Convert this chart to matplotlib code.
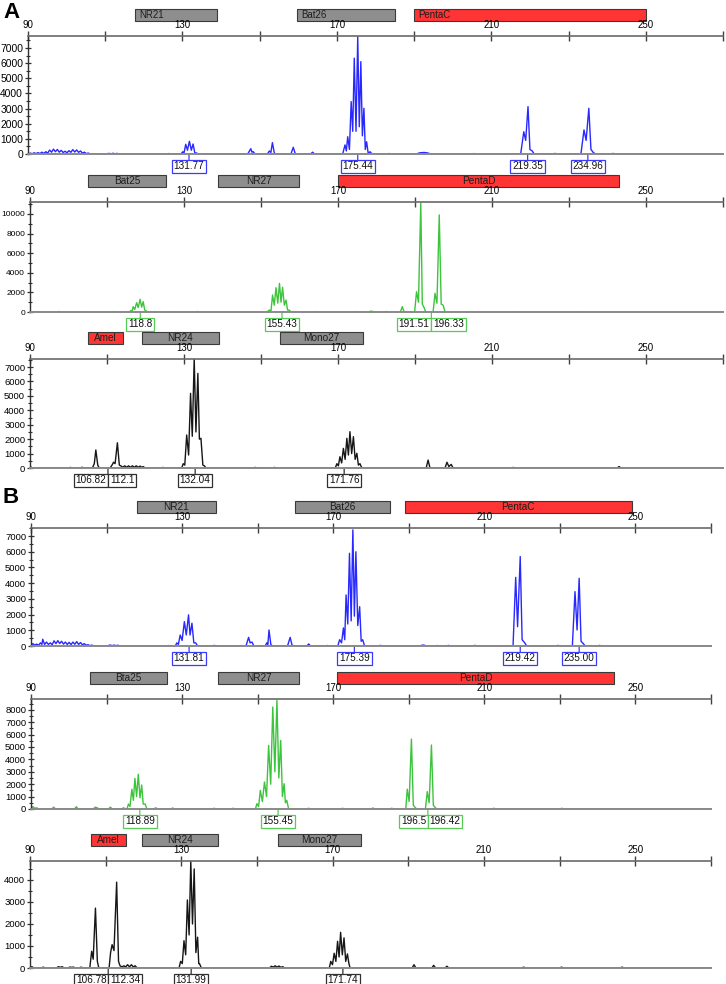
import matplotlib
matplotlib.use('Agg')
import matplotlib.pyplot as plt
from matplotlib.patches import Rectangle
from matplotlib.transforms import blended_transform_factory
from matplotlib.ticker import MultipleLocator
import numpy as np

plt.rcParams['font.family'] = ['Liberation Sans', 'DejaVu Sans']

# ---------------- DATA (size in bp, height in RFU) ----------------
a1_trace = [(90,0),(90.6,60),(91.1,20),(91.6,80),(92.1,30),(92.6,90),(93.1,30),(93.6,120),(94.1,40),(94.6,150),
            (95.1,60),(95.6,260),(96.1,120),(96.6,320),(97.1,150),(97.6,300),(98.1,120),(98.6,240),(99.1,100),
            (99.6,180),(100.1,80),(100.6,220),(101.1,110),(101.6,290),(102.1,130),(102.6,270),(103.1,110),
            (103.6,200),(104.1,60),(104.6,120),(105.1,30),(105.6,60),(106.2,0),
            (110,0),(111,40),(111.5,10),(112,50),(112.5,10),(113,40),(113.6,0),
            (126,0),(126.5,30),(127,0),
            (129.6,0),(130.1,150),(130.4,60),(130.85,640),(131.3,250),(131.8,840),(132.3,250),(132.75,660),
            (133.2,80),(133.7,60),(134.1,0),
            (146.9,0),(147.7,350),(148.0,120),(148.3,160),(148.8,0),
            (152.0,0),(152.5,200),(152.9,100),(153.3,750),(153.8,60),(154.2,0),
            (158.1,0),(158.7,440),(159.2,40),(159.6,0),
            (163.2,0),(163.7,120),(164.2,0),
            (171.5,0),(172.1,600),(172.45,200),(172.8,1140),(173.25,300),(173.7,3460),(174.1,1500),(174.5,6330),
            (174.95,1500),(175.4,7750),(175.8,1800),(176.2,6100),(176.6,1200),(177.0,3020),(177.35,300),
            (177.7,810),(178.1,50),(178.6,150),(179.1,0),
            (183,0),(183.5,30),(184,0),
            (190.5,0),(191.5,80),(192.6,100),(193.5,70),(194.3,0),
            (205,0),(205.5,30),(206,0),
            (217.6,0),(218.4,1470),(218.9,900),(219.5,3130),(220.0,300),(220.6,200),(221.1,0),
            (226,0),(226.5,40),(227,0),
            (233.2,0),(234.0,1590),(234.55,900),(235.25,3020),(235.8,300),(236.4,100),(237,0),
            (241,0),(241.5,40),(242,0),(270,0)]
a1_markers = ["NR21", "Bat26", "PentaC"]
a1_marker_start = [117.7, 159.7, 190.0]
a1_marker_end = [139.0, 185.0, 250.0]
a1_marker_kind = ["gray", "gray", "red"]
a1_call_x = [131.7, 175.4, 219.4, 235.0]
a1_call_txt = ["131.77", "175.44", "219.35", "234.96"]

a2_trace = [(90,0),(92,40),(92.5,0),(97,0),(97.5,50),(98,0),(103,0),(103.5,40),(104,0),
            (111,0),(111.5,40),(112,0),
            (115.8,0),(116.2,150),(116.5,60),(116.8,540),(117.2,250),(117.7,950),(118.1,450),(118.6,1290),
            (119.0,500),(119.4,1050),(119.8,200),(120.2,100),(120.6,0),
            (126,0),(126.5,40),(127,0),(133,0),(133.5,50),(134,0),
            (151.5,0),(152.2,200),(152.6,100),(153.0,1730),(153.45,700),(153.9,2480),(154.35,900),(154.8,2920),
            (155.2,1000),(155.6,2520),(156.05,700),(156.5,1220),(156.9,200),(157.3,200),(157.8,0),
            (164,0),(164.5,40),(165,0),(174,0),(174.5,40),(175,0),(178,0),(178.5,80),(179,60),(179.5,0),
            (182,0),(182.5,50),(183,0),
            (186.2,0),(186.7,540),(187.2,0),
            (189.9,0),(190.4,2070),(190.9,1000),(191.5,11100),(191.9,800),(192.3,500),(192.8,0),
            (194.7,0),(195.2,1900),(195.7,900),(196.3,9900),(196.8,800),(197.3,700),(197.8,0),
            (203,0),(203.5,40),(204,0),(216,0),(216.5,40),(217,0),(232,0),(232.5,40),(233,0),(270,0)]
a2_markers = ["Bat25", "NR27", "PentaD"]
a2_marker_start = [105.0, 138.8, 170.0]
a2_marker_end = [125.3, 159.9, 243.0]
a2_marker_kind = ["gray", "gray", "red"]
a2_call_x = [118.65, 155.45, 190.0, 198.5]
a2_call_txt = ["118.8", "155.43", "191.51", "196.33"]

a3_trace = [(90,0),(90.2,80),(90.5,0),(100,0),(100.5,40),(101,0),(103,0),(103.5,50),(104,0),
            (106.2,0),(106.7,300),(107.1,1250),(107.6,200),(108.0,0),
            (110.8,0),(111.3,200),(111.7,400),(112.1,300),(112.7,1750),(113.2,200),(113.6,150),(114.1,50),
            (114.6,150),(115.1,50),(115.6,150),(116.1,50),(116.6,150),(117.1,50),(117.6,150),(118.1,50),
            (118.6,130),(119.1,40),(119.4,100),(119.9,0),
            (124,0),(124.5,40),(125,0),
            (129.4,0),(129.8,300),(130.2,200),(130.7,2290),(131.2,900),(131.7,5180),(132.15,2200),(132.65,7600),
            (133.1,2500),(133.6,6560),(134.0,2000),(134.4,2060),(134.9,200),(135.3,150),(135.7,0),
            (148,0),(148.5,40),(149,0),(153,0),(153.5,40),(154,0),
            (169.3,0),(169.7,300),(170.1,150),(170.5,780),(170.95,350),(171.4,1360),(171.85,600),(172.3,2060),
            (172.7,900),(173.1,2520),(173.55,1000),(174.0,2170),(174.45,600),(174.9,1020),(175.3,200),
            (175.7,300),(176.2,0),
            (192.9,0),(193.4,550),(193.9,0),(197.8,0),(198.3,400),(198.8,100),(199.4,250),(199.9,0),
            (215,0),(215.5,40),(216,0),(242.5,0),(243,100),(243.5,0),(270,0)]
a3_markers = ["Amel", "NR24", "Mono27"]
a3_marker_start = [105.0, 119.0, 155.0]
a3_marker_end = [114.2, 139.0, 176.5]
a3_marker_kind = ["red", "gray", "gray"]
a3_call_x = [106.0, 114.5, 132.9, 171.6]
a3_call_txt = ["106.82", "112.1", "132.04", "171.76"]

b1_trace = [(90,0),(90.5,150),(91.0,60),(91.5,120),(92.0,50),(92.5,200),(92.9,100),(93.1,430),(93.6,100),
            (94.1,250),(94.6,100),(95.1,200),(95.6,80),(96.1,330),(96.6,150),(97.1,340),(97.6,160),(98.1,300),
            (98.6,120),(99.1,250),(99.6,100),(100.1,230),(100.6,90),(101.1,250),(101.6,110),(102.1,280),
            (102.6,100),(103.1,220),(103.6,80),(104.1,150),(104.6,50),(105.1,80),(105.6,20),(106.1,60),(106.6,0),
            (110,0),(111,60),(111.5,20),(112,60),(112.5,20),(113,50),(113.5,0),
            (126,0),(126.5,30),(127,0),
            (128.2,0),(128.6,200),(129.0,100),(129.5,700),(130.0,350),(130.6,1550),(131.1,700),(131.7,1980),
            (132.1,700),(132.6,1450),(133.1,200),(133.6,200),(134.1,0),
            (138,0),(138.5,40),(139,0),
            (146.9,0),(147.6,550),(148.0,200),(148.5,250),(149.0,0),
            (152.0,0),(152.4,200),(152.7,100),(153.0,1020),(153.5,80),(154.0,0),
            (157.9,0),(158.6,550),(159.1,50),(159.6,0),
            (163.0,0),(163.5,130),(164.0,0),
            (168,0),(168.5,30),(169,0),
            (171.2,0),(171.7,400),(172.2,200),(172.7,1150),(173.05,400),(173.4,3250),(173.85,1400),(174.3,5900),
            (174.75,1600),(175.2,7390),(175.6,1900),(176.0,6000),(176.5,1300),(177.0,2500),(177.4,300),
            (177.8,400),(178.3,0),
            (182,0),(182.5,40),(183,0),(193,0),(193.5,50),(194,60),(194.5,0),(197,0),(197.5,30),(198,0),
            (200,0),(200.5,40),(201,0),(207,0),(207.5,40),(208,0),
            (217.6,0),(218.3,4370),(218.8,1230),(219.5,5690),(220.0,400),(220.7,200),(221.2,0),
            (229,0),(229.5,40),(230,0),
            (233.3,0),(234.0,3460),(234.55,1020),(235.1,4310),(235.6,300),(236.2,150),(236.7,0),
            (240,0),(240.5,40),(241,0),(270,0)]
b1_markers = ["NR21", "Bat26", "PentaC"]
b1_marker_start = [118.0, 160.0, 189.0]
b1_marker_end = [139.0, 185.0, 249.0]
b1_marker_kind = ["gray", "gray", "red"]
b1_call_x = [131.85, 175.6, 219.5, 235.1]
b1_call_txt = ["131.81", "175.39", "219.42", "235.00"]

b2_trace = [(90,0),(90.5,200),(91,50),(91.5,100),(92,0),(95.5,0),(96,150),(96.5,0),(101.5,0),(102,180),
            (102.5,0),(106.5,0),(107,150),(107.5,100),(108,0),(110.5,0),(111,150),(111.5,0),
            (114,0),(114.5,100),(115,0),
            (115.4,0),(115.8,400),(116.2,200),(116.7,1590),(117.1,700),(117.5,2470),(117.95,1000),(118.4,2800),
            (118.85,900),(119.3,1930),(119.7,400),(120.2,400),(120.7,0),
            (122.5,0),(123,100),(123.5,0),(127,0),(127.5,80),(128,0),(138,0),(138.5,60),(139,0),
            (143,0),(143.5,60),(144,0),
            (149.4,0),(149.8,430),(150.25,200),(150.7,1500),(151.25,600),(151.8,2180),(152.35,1000),(152.9,5130),
            (153.45,2000),(154.0,8220),(154.55,3000),(155.1,8760),(155.6,2500),(156.1,5530),(156.55,1000),
            (157.0,2040),(157.35,500),(157.7,700),(158.2,0),
            (163,0),(163.5,60),(164,0),(172,0),(172.5,60),(173,0),(180,0),(180.5,80),(181,0),
            (185,0),(185.5,60),(186,0),
            (189.2,0),(189.6,1600),(190.1,600),(190.7,5640),(191.2,300),(191.6,150),(192.1,0),
            (194.4,0),(194.9,1400),(195.4,500),(196.0,5160),(196.5,300),(196.9,150),(197.4,0),
            (212,0),(212.5,60),(213,0),(230,0),(230.5,60),(231,0),(270,0)]
b2_markers = ["Bta25", "NR27", "PentaD"]
b2_marker_start = [105.6, 139.5, 171.0]
b2_marker_end = [126.0, 161.0, 244.4]
b2_marker_kind = ["gray", "gray", "red"]
b2_call_x = [118.8, 155.4, 190.1, 200.0]
b2_call_txt = ["118.89", "155.45", "196.5", "196.42"]

b3_trace = [(90,0),(90.5,60),(91,0),(93,0),(93.5,40),(94,0),(97,0),(97.5,60),(98,30),(98.5,60),(99,0),
            (100,0),(100.5,40),(101,30),(101.5,40),(102,0),(103,0),(103.5,40),(104,0),
            (105.8,0),(106.3,760),(106.7,400),(107.3,2720),(107.8,300),(108.2,0),
            (110.9,0),(111.3,700),(111.7,1060),(112.2,790),(112.9,3900),(113.4,300),(113.8,100),(114.3,50),
            (114.8,100),(115.3,50),(115.8,150),(116.3,50),(116.8,150),(117.3,50),(117.8,100),(118.3,0),
            (129.4,0),(129.8,300),(130.25,200),(130.7,1240),(131.15,600),(131.6,3090),(132.05,1500),(132.5,4850),
            (132.95,2000),(133.4,4500),(133.85,700),(134.3,1400),(134.6,200),(134.8,200),(135.3,0),
            (153.3,0),(153.8,80),(154.3,40),(154.8,100),(155.3,40),(155.8,90),(156.3,30),(156.8,60),(157.3,0),
            (169.1,0),(169.5,300),(169.95,150),(170.4,670),(170.85,300),(171.3,1210),(171.7,500),(172.1,1620),
            (172.55,600),(173.0,1370),(173.45,300),(173.9,640),(174.3,200),(174.6,0),
            (191.0,0),(191.5,150),(192.0,0),(196.2,0),(196.7,120),(197.2,0),(199.7,0),(200.2,80),(200.7,0),
            (220,0),(220.5,40),(221,0),(230,0),(230.5,40),(231,0),(246,0),(246.5,40),(247,0),(270,0)]
b3_markers = ["Amel", "NR24", "Mono27"]
b3_marker_start = [106.0, 119.7, 155.5]
b3_marker_end = [115.3, 139.8, 177.4]
b3_marker_kind = ["red", "gray", "gray"]
b3_call_x = [106.35, 115.0, 132.6, 172.7]
b3_call_txt = ["106.78", "112.34", "131.99", "171.74"]

x_ticks = [90, 110, 130, 150, 170, 190, 210, 230, 250, 270]
x_ticklabels = ["90", "", "130", "", "170", "", "210", "", "250", ""]

# ---------------- STYLE / LAYOUT ----------------
W, H = 726, 984
fig = plt.figure(figsize=(W / 100, H / 100), dpi=100)
fig.patch.set_facecolor('white')

BLUE, GREEN, BLACK = '#2828ff', '#3cc43c', '#161616'
BOX_BLUE, BOX_GREEN, BOX_BLACK = '#3a3aff', '#55cc55', '#303030'
BAR_FILL = {"gray": '#8e8e8e', "red": '#ff3434'}


def draw_panel(geom, trace, color, ymax, ymaj, ymin, ylab_size,
               markers, m_start, m_end, m_kind, m_align,
               call_x, call_txt, box_color):
    l, t, r, b = geom
    ax = fig.add_axes([l / W, 1 - b / H, (r - l) / W, (b - t) / H])
    xs = [p[0] for p in trace]
    ys = [p[1] for p in trace]
    ax.plot(xs, ys, color=color, lw=1.0, zorder=2)
    ax.set_xlim(90, 270)
    ax.set_ylim(0, ymax)
    ax.set_facecolor('none')
    ax.spines['right'].set_visible(False)
    ax.spines['top'].set_color('#6a6a6a')
    ax.spines['top'].set_linewidth(1.2)
    ax.spines['bottom'].set_color('#8a8a8a')
    ax.spines['bottom'].set_linewidth(1.4)
    ax.spines['bottom'].set_zorder(3)
    ax.spines['left'].set_color('#303030')
    ax.spines['left'].set_linewidth(1.0)
    ax.xaxis.set_ticks_position('top')
    ax.xaxis.set_label_position('top')
    ax.set_xticks(x_ticks)
    ax.set_xticklabels(x_ticklabels)
    ax.tick_params(axis='x', direction='inout', length=6.5, width=1.0, color='#404040',
                   labelsize=7.0, pad=1)
    ax.yaxis.set_major_locator(MultipleLocator(ymaj))
    ax.yaxis.set_minor_locator(MultipleLocator(ymin))
    ax.tick_params(axis='y', which='major', direction='inout', length=5, width=0.9,
                   color='#303030', labelsize=ylab_size, pad=1)
    ax.tick_params(axis='y', which='minor', direction='inout', length=3, width=0.8, color='#303030')
    ax.set_yticks([v for v in np.arange(0, ymax + 1, ymaj)])

    tr = blended_transform_factory(ax.transData, fig.transFigure)
    y0 = 1 - (t - 15) / H
    y1 = 1 - (t - 27) / H
    for name, s, e, k in zip(markers, m_start, m_end, m_kind):
        ax.add_patch(Rectangle((s, y0), e - s, y1 - y0, transform=tr, facecolor=BAR_FILL[k],
                               edgecolor='#3a3a3a', lw=0.8, clip_on=False))
        if m_align == 'left':
            ax.text(s + 1.0, (y0 + y1) / 2, name, transform=tr, ha='left', va='center',
                    fontsize=7.0, color='#1e1e1e')
        else:
            ax.text((s + e) / 2, (y0 + y1) / 2, name, transform=tr, ha='center', va='center',
                    fontsize=7.2, color='#1e1e1e')

    def call_box(x, txt, ha, dx):
        ax.annotate(txt, xy=(x, 0), xytext=(dx, -8.9), textcoords='offset points',
                    ha=ha, va='center', fontsize=7.2, color='#111111', annotation_clip=False,
                    bbox=dict(boxstyle='square,pad=0.18', fc='white', ec=box_color, lw=0.9))

    def call_tick(x):
        ax.annotate('', xy=(x, 0), xytext=(0, -4.2), textcoords='offset points',
                    annotation_clip=False,
                    arrowprops=dict(arrowstyle='-', color=box_color, lw=0.9, shrinkA=0, shrinkB=0))

    i = 0
    while i < len(call_x):
        if i + 1 < len(call_x) and call_x[i + 1] - call_x[i] < 11:
            m = (call_x[i] + call_x[i + 1]) / 2
            call_box(m, call_txt[i], 'right', -1.3)
            call_box(m, call_txt[i + 1], 'left', 1.3)
            call_tick(m)
            i += 2
        else:
            call_box(call_x[i], call_txt[i], 'center', 0)
            call_tick(call_x[i])
            i += 1
    return ax


draw_panel((28, 36, 723, 154), a1_trace, BLUE, 7794, 1000, 500, 7.4,
           a1_markers, a1_marker_start, a1_marker_end, a1_marker_kind, 'left',
           a1_call_x, a1_call_txt, BOX_BLUE)
draw_panel((30, 202, 723, 312), a2_trace, GREEN, 11220, 2000, 1000, 6.0,
           a2_markers, a2_marker_start, a2_marker_end, a2_marker_kind, 'center',
           a2_call_x, a2_call_txt, BOX_GREEN)
draw_panel((30, 359, 723, 468), a3_trace, BLACK, 7560, 1000, 500, 6.8,
           a3_markers, a3_marker_start, a3_marker_end, a3_marker_kind, 'center',
           a3_call_x, a3_call_txt, BOX_BLACK)
draw_panel((31, 528, 711, 646), b1_trace, BLUE, 7510, 1000, 500, 6.8,
           b1_markers, b1_marker_start, b1_marker_end, b1_marker_kind, 'center',
           b1_call_x, b1_call_txt, BOX_BLUE)
draw_panel((31, 699, 711, 809), b2_trace, GREEN, 8870, 1000, 500, 6.8,
           b2_markers, b2_marker_start, b2_marker_end, b2_marker_kind, 'center',
           b2_call_x, b2_call_txt, BOX_GREEN)
draw_panel((30, 861, 711, 968), b3_trace, BLACK, 4860, 1000, 500, 6.8,
           b3_markers, b3_marker_start, b3_marker_end, b3_marker_kind, 'center',
           b3_call_x, b3_call_txt, BOX_BLACK)

fig.text(3 / W, 1 - 2 / H, 'A', fontsize=16, fontweight='bold', ha='left', va='top')
fig.text(3 / W, 1 - 487 / H, 'B', fontsize=16, fontweight='bold', ha='left', va='top')

fig.savefig('out.png', dpi=100, facecolor='white')
